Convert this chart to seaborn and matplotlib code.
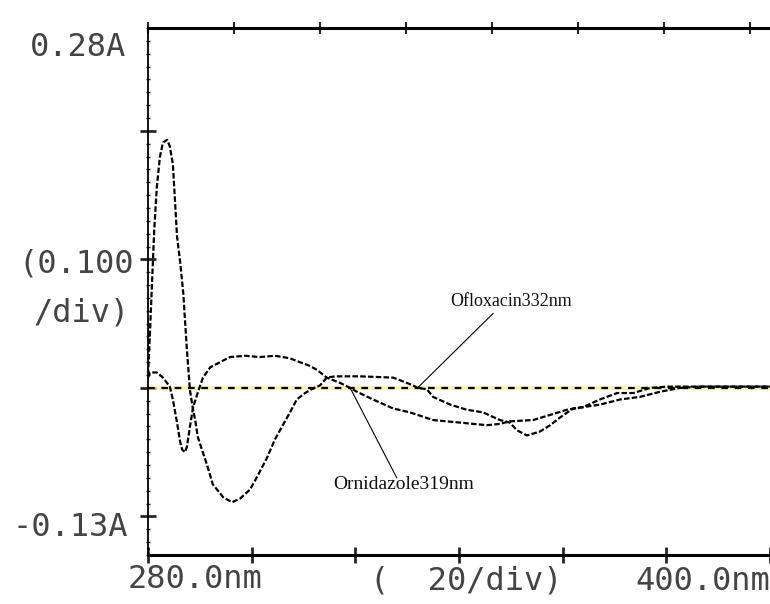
import matplotlib

matplotlib.use("Agg")
import matplotlib.pyplot as plt
import numpy as np
import pandas as pd
import seaborn as sns
from matplotlib.ticker import MultipleLocator

sns.set_style("white")
plt.rcParams.update({"font.family": ["DejaVu Sans Mono", "DejaVu Sans"]})

# First-derivative spectra (wavelength in nm, dA/dλ)
OFLOXACIN_NM = [280.0, 280.4, 280.8, 281.2, 281.7, 282.3, 282.9, 283.7, 284.2, 284.8,
                285.2, 285.6, 286.2, 286.8, 287.5, 288.1, 288.7, 289.1, 289.6, 290.4,
                291.4, 292.5, 294.5, 296.2, 297.8, 299.7, 301.2, 303.0, 304.5, 306.0,
                307.4, 308.7, 310.3, 311.6, 313.2, 314.5, 316.1, 320.9, 327.3, 328.6,
                331.1, 332.0, 333.8, 335.0, 338.3, 341.5, 344.6, 347.9, 349.8, 351.2,
                353.1, 355.6, 357.6, 359.5, 362.0, 363.9, 367.2, 371.1, 374.9, 378.8,
                382.6, 386.5, 400.0]
OFLOXACIN_D = [0.010, 0.045, 0.084, 0.123, 0.156, 0.180, 0.191, 0.193, 0.188, 0.174,
               0.146, 0.118, 0.098, 0.074, 0.030, -0.002, -0.017, -0.025, -0.038, -0.048,
               -0.060, -0.075, -0.085, -0.089, -0.086, -0.079, -0.068, -0.054, -0.040, -0.029,
               -0.019, -0.009, -0.004, -0.001, 0.002, 0.008, 0.009, 0.009, 0.008, 0.006,
               0.002, 0.000, -0.001, -0.007, -0.013, -0.017, -0.019, -0.025, -0.027, -0.033,
               -0.037, -0.034, -0.029, -0.023, -0.016, -0.015, -0.013, -0.009, -0.007, -0.003,
               0.000, 0.001, 0.001]

ORNIDAZOLE_NM = [280.0, 280.4, 281.7, 282.9, 284.2, 284.8, 285.6, 286.2, 286.6, 287.1,
                 287.5, 288.1, 288.7, 289.5, 290.0, 290.6, 292.0, 293.9, 295.8, 298.7,
                 301.6, 304.5, 306.0, 307.4, 309.3, 311.3, 312.6, 314.5, 317.0, 319.0,
                 320.3, 323.4, 327.3, 330.5, 335.0, 340.2, 345.4, 347.9, 349.8, 354.3,
                 357.6, 360.8, 363.9, 367.2, 370.5, 373.6, 376.9, 380.1, 400.0]
ORNIDAZOLE_D = [0.008, 0.012, 0.012, 0.008, 0.001, -0.009, -0.027, -0.042, -0.048, -0.050,
                -0.046, -0.030, -0.015, -0.005, 0.001, 0.008, 0.016, 0.020, 0.024, 0.025,
                0.024, 0.025, 0.024, 0.023, 0.020, 0.017, 0.014, 0.008, 0.004, 0.000,
                -0.003, -0.009, -0.016, -0.019, -0.025, -0.027, -0.029, -0.028, -0.026, -0.025,
                -0.021, -0.017, -0.015, -0.009, -0.004, -0.004, 0.000, 0.001, 0.001]

# label text, zero-crossing wavelength, label anchor, end of the pointer line
LABELS = [
    ("Ofloxacin332nm", 332.0, (338.3, 0.067), (346.6, 0.058), 13),
    ("Ornidazole319nm", 319.0, (315.7, -0.0755), (328.0, -0.070), 14),
]

spectra = pd.concat(
    [
        pd.DataFrame({"nm": OFLOXACIN_NM, "d": OFLOXACIN_D, "Drug": "Ofloxacin"}),
        pd.DataFrame({"nm": ORNIDAZOLE_NM, "d": ORNIDAZOLE_D, "Drug": "Ornidazole"}),
    ]
)

figure = plt.figure(figsize=(7.7, 6.04), dpi=100)
ax = figure.add_axes([148 / 770, 49 / 604, 622 / 770, 527 / 604])

ax.axhline(0, color="#f3ec9a", lw=3, alpha=0.7, zorder=1)
ax.axhline(0, color="black", lw=1.6, ls=(0, (3, 3)), zorder=2)

for drug in ("Ofloxacin", "Ornidazole"):
    sns.lineplot(
        data=spectra[spectra["Drug"] == drug],
        x="nm",
        y="d",
        estimator=None,
        sort=False,
        color="black",
        lw=1.6,
        ls=(0, (2.5, 1)),
        ax=ax,
        zorder=3,
    )

for text, crossing, anchor, end, size in LABELS:
    ax.plot([crossing, end[0]], [0, end[1]], color="black", lw=0.8, zorder=4)
    ax.text(anchor[0], anchor[1], text, ha="left", va="center",
            family="Liberation Serif", fontsize=size, color="#111111")

ax.set(xlim=(280, 400), ylim=(-0.13, 0.28), xlabel="", ylabel="")
ax.xaxis.set_major_locator(MultipleLocator(20))
ax.yaxis.set_major_locator(MultipleLocator(0.1))
ax.yaxis.set_minor_locator(MultipleLocator(0.01))
ax.tick_params(axis="both", which="major", direction="inout", length=12, width=2,
               labelbottom=False, labelleft=False, bottom=True, left=True)
ax.tick_params(axis="y", which="minor", direction="inout", length=3, width=1, left=True)
ax.spines["right"].set_visible(False)
ax.spines["left"].set_linewidth(1.3)
ax.spines["top"].set_linewidth(2.2)
ax.spines["bottom"].set_linewidth(2.2)
for side in ("left", "top", "bottom"):
    ax.spines[side].set_color("black")

top = ax.secondary_xaxis("top")
top.set_xticks(np.arange(280, 400, 16.6))
top.tick_params(direction="inout", length=8, width=1.5, labeltop=False)
top.spines["top"].set_visible(False)

label_style = dict(fontsize=23, color="#444444", family="DejaVu Sans Mono")
for text, x, y, va in (
    ("0.28A", 30, 48, "center"),
    ("(0.100", 18, 264, "center"),
    ("/div)", 33, 313, "center"),
    ("-0.13A", 13, 527, "center"),
    ("280.0nm", 128, 564, "top"),
    ("(  20/div)", 370, 566, "top"),
    ("400.0nm", 635, 566, "top"),
):
    figure.text(x / 770, 1 - y / 604, text, ha="left", va=va, **label_style)

figure.savefig("out.png", dpi=100)
